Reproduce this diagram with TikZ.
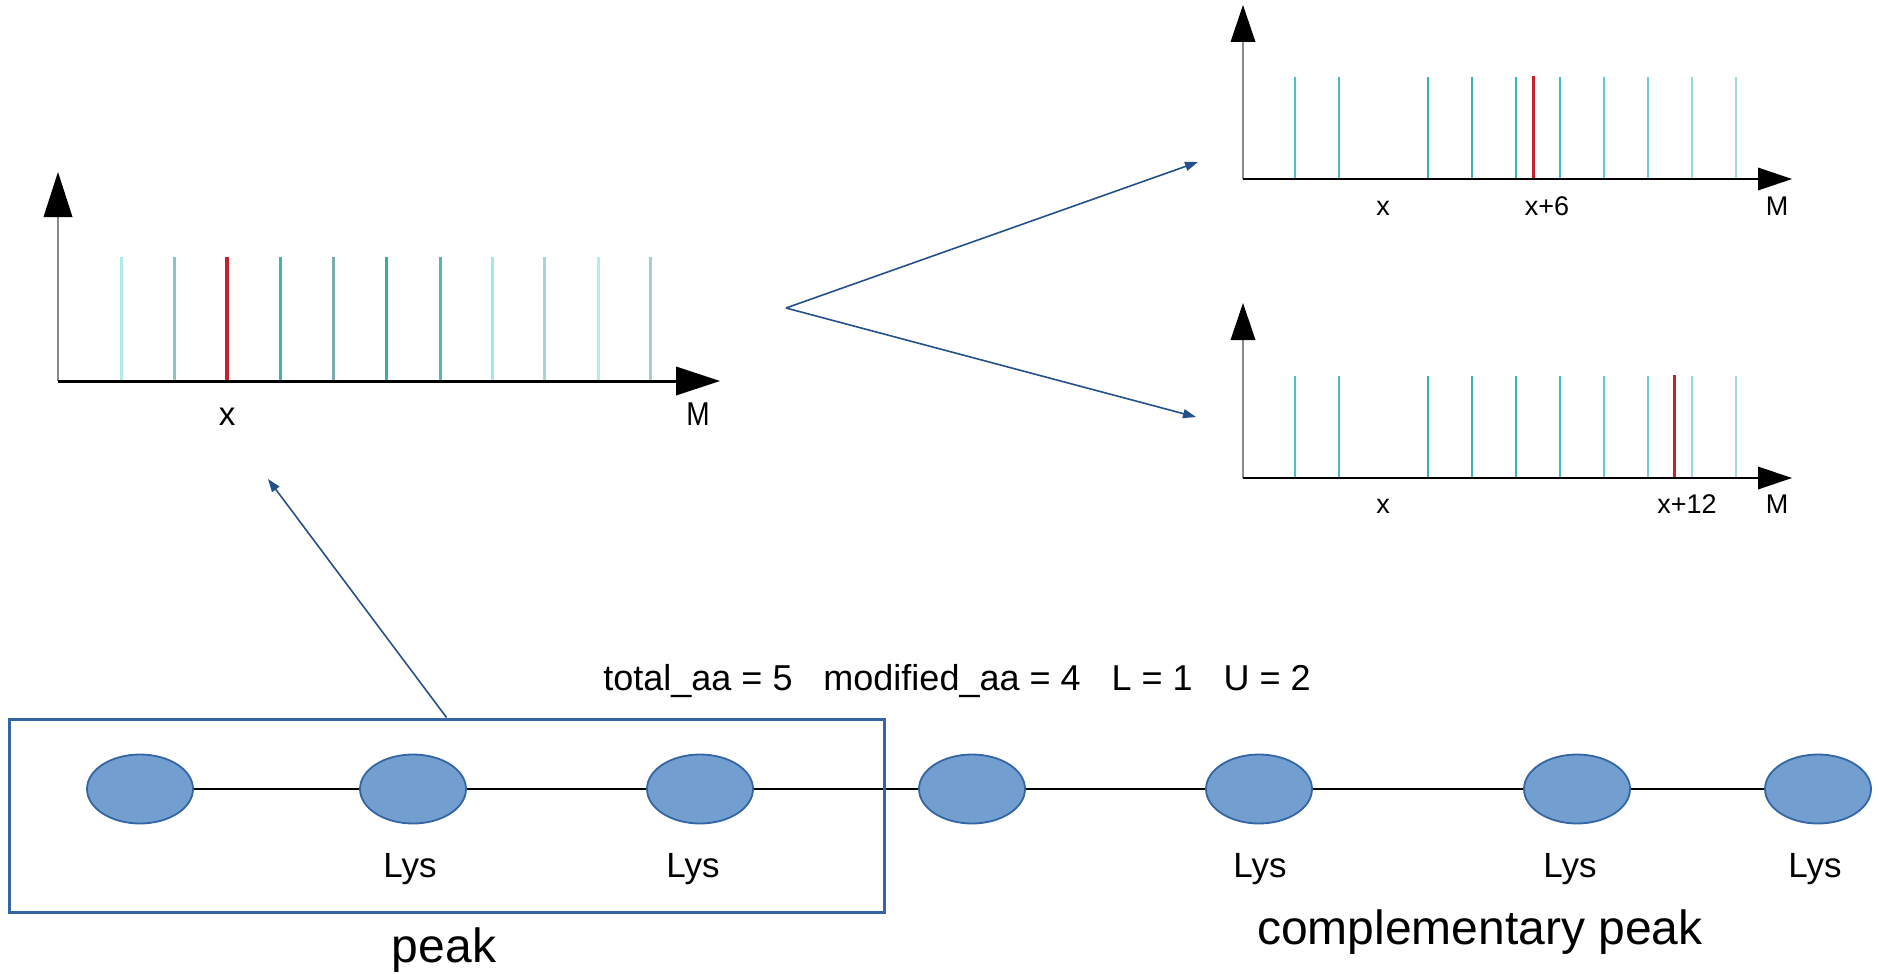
\documentclass[tikz,border=0pt]{standalone}
\usepackage{fontspec}
\setmainfont{Liberation Sans}
\usetikzlibrary{shapes.geometric,arrows.meta}

\definecolor{aafill}{HTML}{729FCF}
\definecolor{aaline}{HTML}{3465A4}
\definecolor{linkblue}{HTML}{24508C}
\definecolor{peakred}{HTML}{C8202C}
\definecolor{axisgray}{HTML}{8A8A8A}
% left spectrum peak colours
\definecolor{pa}{HTML}{B2EAEA}
\definecolor{pb}{HTML}{8CC4C4}
\definecolor{pc}{HTML}{44B4AA}
\definecolor{pd}{HTML}{7AACAC}
\definecolor{pe}{HTML}{2CB4A4}
\definecolor{pf}{HTML}{5CB0C0}
\definecolor{pg}{HTML}{A8E4EC}
\definecolor{ph}{HTML}{A6D6D6}
\definecolor{pi}{HTML}{B8ECEC}
\definecolor{pj}{HTML}{A8CCD4}
% right spectra peak colours
\definecolor{qa}{HTML}{50C0C8}
\definecolor{qb}{HTML}{4CB8C0}
\definecolor{qc}{HTML}{30B0B8}
\definecolor{qd}{HTML}{40B0B0}
\definecolor{qe}{HTML}{30B8B0}
\definecolor{qf}{HTML}{44B8D0}
\definecolor{qg}{HTML}{64C8D8}
\definecolor{qh}{HTML}{74C8D8}
\definecolor{qi}{HTML}{94DCE0}
\definecolor{qj}{HTML}{A4D8E0}

\begin{document}
\begin{tikzpicture}[x=0.5pt,y=-0.5pt,
  aa/.style={ellipse, draw=aaline, line width=0.9pt, fill=aafill,
             minimum width=53pt, minimum height=34.5pt, inner sep=0pt},
  link/.style={draw=linkblue, line width=0.8pt,
               -{Triangle[length=6.5pt,width=4.5pt]}},
  bond/.style={draw=black, line width=1pt},
  lbl/.style={inner sep=0pt, anchor=base},
  biglbl/.style={lbl, font=\fontsize{17.5}{20}\selectfont},
  paramlbl/.style={lbl, font=\fontsize{18}{21}\selectfont},
  hugelbl/.style={lbl, font=\fontsize{24}{28}\selectfont},
  axlblL/.style={lbl, font=\fontsize{16.5}{19}\selectfont},
  axlblR/.style={lbl, font=\fontsize{13.5}{16}\selectfont},
]
\useasboundingbox (0,0) rectangle (1879,974);

% ---------- left spectrum ----------
\foreach \px/\c in {121/pa,174/pb,280/pc,333/pd,386/pe,440/pf,492/pg,544/ph,598/pi,650/pj}
  \draw[\c, line width=1.5pt] (\px,257) -- (\px,381);
\draw[peakred, line width=2pt] (227,257) -- (227,381);
\draw[axisgray, line width=1.3pt] (58,381) -- (58,214);
\fill (58,172) -- (43.5,217) -- (72.5,217) -- cycle;
\draw[line width=1.5pt] (58,381) -- (678,381);
\fill (720,381) -- (676,366.5) -- (676,395.5) -- cycle;
\node[axlblL] (lx) at (227,425) {x};
\node[axlblL, xscale=0.85] (lM) at (698,425) {M};

% ---------- upper right spectrum ----------
\foreach \px/\c in {1295/qa,1339/qb,1428/qc,1472/qd,1516/qe,1560/qf,1604/qg,1648/qh,1692/qi,1736/qj}
  \draw[\c, line width=1pt] (\px,77) -- (\px,179);
\draw[peakred, line width=1.5pt] (1533,76) -- (1533,179);
\draw[axisgray, line width=1pt] (1243,179) -- (1243,40);
\fill (1243,5) -- (1230.5,42) -- (1255.5,42) -- cycle;
\draw[line width=1pt] (1243,179) -- (1760,179);
\fill (1792,179) -- (1758,167.5) -- (1758,190.5) -- cycle;
\node[axlblR] (ux) at (1383,215) {x};
\node[axlblR] (ux6) at (1547,215) {x+6};
\node[axlblR] (uM) at (1777,215) {M};

% ---------- lower right spectrum ----------
\foreach \px/\c in {1295/qa,1339/qb,1428/qc,1472/qd,1516/qe,1560/qf,1604/qg,1648/qh,1692/qi,1736/qj}
  \draw[\c, line width=1pt] (\px,376) -- (\px,478);
\draw[peakred, line width=1.5pt] (1674,375) -- (1674,478);
\draw[axisgray, line width=1pt] (1243,478) -- (1243,338);
\fill (1243,303) -- (1230.5,340) -- (1255.5,340) -- cycle;
\draw[line width=1pt] (1243,478) -- (1760,478);
\fill (1792,478) -- (1758,466.5) -- (1758,489.5) -- cycle;
\node[axlblR] (bx) at (1383,513) {x};
\node[axlblR] (bx12) at (1687,513) {x+12};
\node[axlblR] (bM) at (1777,513) {M};

% ---------- peptide chain ----------
\node[aa] (aa1) at (140,789) {};
\node[aa] (aa2) at (413,789) {};
\node[aa] (aa3) at (700,789) {};
\node[aa] (aa4) at (972,789) {};
\node[aa] (aa5) at (1259,789) {};
\node[aa] (aa6) at (1577,789) {};
\node[aa] (aa7) at (1818,789) {};
\foreach \a/\b in {aa1/aa2,aa2/aa3,aa3/aa4,aa4/aa5,aa5/aa6,aa6/aa7}
  \draw[bond] (\a) -- (\b);

\node[biglbl] (lys2) at (410,877) {Lys};
\node[biglbl] (lys3) at (693,877) {Lys};
\node[biglbl] (lys5) at (1260,877) {Lys};
\node[biglbl] (lys6) at (1570,877) {Lys};
\node[biglbl] (lys7) at (1815,877) {Lys};

% box around the peak fragment
\node[draw=aaline, line width=1.5pt, minimum width=437.5pt,
      minimum height=96.5pt, inner sep=0pt] (peakbox) at (446.5,815.5) {};

\node[paramlbl, anchor=base west] (params) at (603,690)
  {total\_aa = 5\hspace{0.86em}modified\_aa = 4\hspace{0.86em}L = 1\hspace{0.86em}U = 2};
\node[hugelbl] (peaklbl) at (444,962) {peak};
\node[hugelbl] (complbl) at (1480,944) {complementary peak};

% ---------- connectors ----------
\coordinate (specL) at (268,479);
\coordinate (fork) at (786,308);
\coordinate (specTop) at (1198,162);
\coordinate (specBot) at (1196,417);
\draw[link] (peakbox.north) -- (specL);
\draw[link] (fork) -- (specTop);
\draw[link] (fork) -- (specBot);
\end{tikzpicture}
\end{document}
